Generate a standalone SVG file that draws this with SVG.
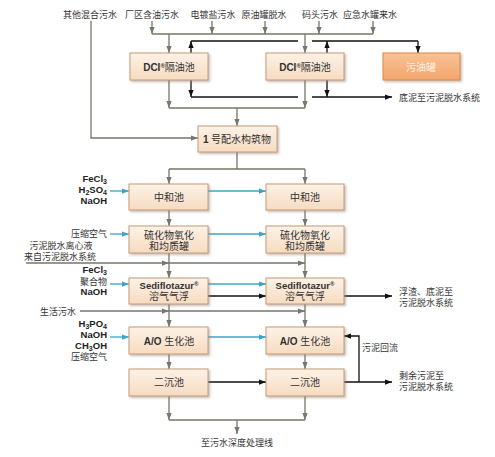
<svg xmlns="http://www.w3.org/2000/svg" width="495" height="457" viewBox="0 0 495 457">
<defs>
<linearGradient id="gBox" x1="0" y1="0" x2="0" y2="1"><stop offset="0" stop-color="#fdf2e6"/><stop offset="1" stop-color="#f6dbc1"/></linearGradient>
<linearGradient id="gOil" x1="0" y1="0" x2="0" y2="1"><stop offset="0" stop-color="#f8c296"/><stop offset="1" stop-color="#f2a66c"/></linearGradient>
<filter id="sh" x="-10%" y="-10%" width="125%" height="140%"><feDropShadow dx="1.5" dy="1.5" stdDeviation="0.8" flood-color="#8a7a6a" flood-opacity="0.5"/></filter>
<marker id="aG" viewBox="0 0 8 6" refX="8" refY="3" markerWidth="7" markerHeight="5.5" markerUnits="userSpaceOnUse" orient="auto"><path d="M0,0 L8,3 L0,6 Z" fill="#76766a"/></marker>
<marker id="aK" viewBox="0 0 8 6" refX="8" refY="3" markerWidth="7" markerHeight="5.5" markerUnits="userSpaceOnUse" orient="auto"><path d="M0,0 L8,3 L0,6 Z" fill="#111"/></marker>
<marker id="aC" viewBox="0 0 8 6" refX="8" refY="3" markerWidth="7" markerHeight="5.5" markerUnits="userSpaceOnUse" orient="auto"><path d="M0,0 L8,3 L0,6 Z" fill="#3aa6c6"/></marker>
</defs>
<style>
.box{fill:url(#gBox);stroke:#c49c7a;stroke-width:1;filter:url(#sh)}
.oil{fill:url(#gOil);stroke:#d98a4e;stroke-width:1;filter:url(#sh)}
.t{font-family:"Liberation Serif","Noto Sans CJK SC",serif;font-size:10px;fill:#333;text-anchor:middle}
.b{font-family:"Liberation Sans",Arial,sans-serif;font-weight:bold}
.lb{font-family:"Liberation Serif","Noto Sans CJK SC",serif;font-size:9px;fill:#333}
.ch{font-family:"Liberation Sans",Arial,sans-serif;font-weight:bold;font-size:9.5px;fill:#222;text-anchor:end}
.g{fill:none;stroke:#76766a;stroke-width:1.3}
.k{fill:none;stroke:#111;stroke-width:1.3}
.c{fill:none;stroke:#3aa6c6;stroke-width:1.3}
.gm{marker-end:url(#aG)}
.km{marker-end:url(#aK)}
.cm{marker-end:url(#aC)}
</style>
<rect width="495" height="457" fill="#fff"/>

<g id="connectors">
<path class="g gm" d="M152,21 V34"/>
<path class="g gm" d="M212,21 V34"/>
<path class="g gm" d="M265,21 V34"/>
<path class="g gm" d="M319,21 V34"/>
<path class="g gm" d="M373,21 V34"/>
<path class="g" d="M152,34 H373"/>
<path class="g gm" d="M169,34 V53"/>
<path class="g gm" d="M305,34 V53"/>
<path class="g gm" d="M169,80 V108"/>
<path class="g gm" d="M305,80 V108"/>
<path class="g" d="M169,108 H305"/>
<path class="g gm" d="M237,108 V126"/>
<path class="g gm" d="M91,21 V138 H198"/>
<path class="g" d="M237,152 V169 M169,169 H305"/>
<path class="g gm" d="M169,169 V184"/>
<path class="g gm" d="M305,169 V184"/>
<path class="g gm" d="M169,210 V226"/>
<path class="g gm" d="M305,210 V226"/>
<path class="g gm" d="M169,253 V278"/>
<path class="g gm" d="M305,253 V278"/>
<path class="g gm" d="M26,263 H169"/>
<path class="g gm" d="M169,263 H305"/>
<path class="g gm" d="M169,304 V327"/>
<path class="g gm" d="M305,304 V327"/>
<path class="g gm" d="M80,311 H169"/>
<path class="g gm" d="M169,311 H305"/>
<path class="g gm" d="M169,354 V369"/>
<path class="g gm" d="M305,354 V369"/>
<path class="g gm" d="M169,396 V420"/>
<path class="g gm" d="M305,396 V420"/>
<path class="g" d="M169,420 H305"/>
<path class="g gm" d="M237,420 V434"/>
<path class="k km" d="M191,53 V41"/>
<path class="k km" d="M327,53 V41"/>
<path class="k" d="M191,41 H298 M312,41 H418"/>
<path class="k km" d="M418,41 V53"/>
<path class="k km" d="M191,80 V97"/>
<path class="k km" d="M327,80 V97"/>
<path class="k" d="M191,97 H298"/>
<path class="k km" d="M312,97 H392"/>
<path class="k km" d="M208,296 H266"/>
<path class="k km" d="M344,296 H392"/>
<path class="k km" d="M208,382 H266"/>
<path class="k km" d="M344,382 H392"/>
<path class="k km" d="M359,382 V336 H344"/>
<path class="c cm" d="M110,191 H129"/>
<path class="c cm" d="M208,191 H266"/>
<path class="c cm" d="M110,234 H129"/>
<path class="c cm" d="M208,234 H266"/>
<path class="c cm" d="M110,284 H129"/>
<path class="c cm" d="M208,284 H266"/>
<path class="c cm" d="M110,337 H129"/>
<path class="c cm" d="M208,337 H266"/>
</g>

<g id="labels">
<text class="lb" x="90" y="18" text-anchor="middle">其他混合污水</text>
<text class="lb" x="152" y="18" text-anchor="middle">厂区含油污水</text>
<text class="lb" x="213" y="18" text-anchor="middle">电镀盐污水</text>
<text class="lb" x="264" y="18" text-anchor="middle">原油罐脱水</text>
<text class="lb" x="320" y="18" text-anchor="middle">码头污水</text>
<text class="lb" x="370" y="18" text-anchor="middle">应急水罐来水</text>
<text class="lb" x="399" y="101">底泥至污泥脱水系统</text>
<text class="ch" x="107" y="182">FeCl<tspan font-size="7" dy="1.5">3</tspan></text>
<text class="ch" x="107" y="193">H<tspan font-size="7" dy="1.5">2</tspan><tspan dy="-1.5">SO</tspan><tspan font-size="7" dy="1.5">4</tspan></text>
<text class="ch" x="107" y="204">NaOH</text>
<text class="lb" x="107" y="237" text-anchor="end">压缩空气</text>
<text class="lb" x="61" y="249" text-anchor="middle" font-size="8.5">污泥脱水离心液</text>
<text class="lb" x="60" y="260" text-anchor="middle" font-size="8.5">来自污泥脱水系统</text>
<text class="ch" x="107" y="273">FeCl<tspan font-size="7" dy="1.5">3</tspan></text>
<text class="lb" x="107" y="285" text-anchor="end">聚合物</text>
<text class="ch" x="107" y="295">NaOH</text>
<text class="lb" x="399" y="295">浮渣、底泥至</text>
<text class="lb" x="399" y="306">污泥脱水系统</text>
<text class="lb" x="40" y="315">生活污水</text>
<text class="ch" x="107" y="327">H<tspan font-size="7" dy="1.5">3</tspan><tspan dy="-1.5">PO</tspan><tspan font-size="7" dy="1.5">4</tspan></text>
<text class="ch" x="107" y="338">NaOH</text>
<text class="ch" x="107" y="349">CH<tspan font-size="7" dy="1.5">3</tspan><tspan dy="-1.5">OH</tspan></text>
<text class="lb" x="107" y="360" text-anchor="end">压缩空气</text>
<text class="lb" x="362" y="351">污泥回流</text>
<text class="lb" x="399" y="379">剩余污泥至</text>
<text class="lb" x="399" y="390">污泥脱水系统</text>
<text class="lb" x="237" y="446" text-anchor="middle">至污水深度处理线</text>
</g>

<g id="dci1"><rect class="box" x="130" y="53" width="78" height="27"/><text class="t" x="169" y="70.5"><tspan class="b">DCI</tspan><tspan class="b" font-size="6" dy="-3">®</tspan><tspan dy="3">隔油池</tspan></text></g>
<g id="dci2"><rect class="box" x="266" y="53" width="78" height="27"/><text class="t" x="305" y="70.5"><tspan class="b">DCI</tspan><tspan class="b" font-size="6" dy="-3">®</tspan><tspan dy="3">隔油池</tspan></text></g>
<g id="oiltank"><rect class="oil" x="383" y="53" width="77" height="27"/><text class="t" x="421" y="70.5" style="fill:#fff3e6">污油罐</text></g>
<g id="dist1"><rect class="box" x="198" y="126" width="79" height="26"/><text class="t" x="237" y="142.5"><tspan class="b">1</tspan> 号配水构筑物</text></g>
<g id="neut1"><rect class="box" x="129" y="184" width="79" height="26"/><text class="t" x="169" y="200.5">中和池</text></g>
<g id="neut2"><rect class="box" x="266" y="184" width="78" height="26"/><text class="t" x="305" y="200.5">中和池</text></g>
<g id="sulf1"><rect class="box" x="129" y="226" width="79" height="27"/><text class="t" x="169" y="238.5">硫化物氧化</text><text class="t" x="169" y="249.5">和均质罐</text></g>
<g id="sulf2"><rect class="box" x="266" y="226" width="78" height="27"/><text class="t" x="305" y="238.5">硫化物氧化</text><text class="t" x="305" y="249.5">和均质罐</text></g>
<g id="sedi1"><rect class="box" x="129" y="278" width="79" height="26"/><text class="t" x="169" y="288.5"><tspan class="b" font-size="9.5">Sediflotazur</tspan><tspan class="b" font-size="6" dy="-3">®</tspan></text><text class="t" x="169" y="299.5">溶气气浮</text></g>
<g id="sedi2"><rect class="box" x="266" y="278" width="78" height="26"/><text class="t" x="305" y="288.5"><tspan class="b" font-size="9.5">Sediflotazur</tspan><tspan class="b" font-size="6" dy="-3">®</tspan></text><text class="t" x="305" y="299.5">溶气气浮</text></g>
<g id="ao1"><rect class="box" x="129" y="327" width="79" height="27"/><text class="t" x="169" y="344.5"><tspan class="b">A/O</tspan> 生化池</text></g>
<g id="ao2"><rect class="box" x="266" y="327" width="78" height="27"/><text class="t" x="305" y="344.5"><tspan class="b">A/O</tspan> 生化池</text></g>
<g id="clar1"><rect class="box" x="129" y="369" width="79" height="27"/><text class="t" x="169" y="386">二沉池</text></g>
<g id="clar2"><rect class="box" x="266" y="369" width="78" height="27"/><text class="t" x="305" y="386">二沉池</text></g>
</svg>
